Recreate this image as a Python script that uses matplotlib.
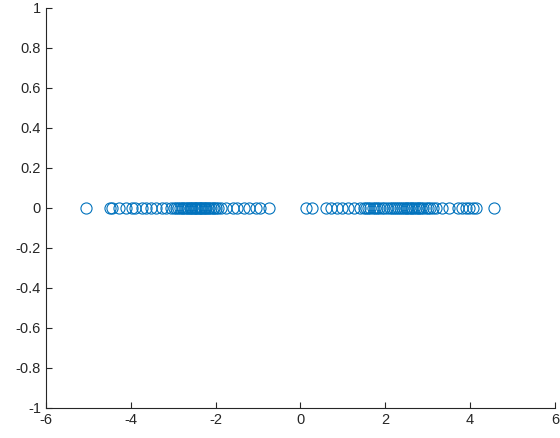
import matplotlib
matplotlib.use("Agg")
import matplotlib.pyplot as plt

# sample positions (all at y = 0)
x_neg = [-5.05, -4.5, -4.44, -4.28, -4.12, -3.98, -3.9, -3.74, -3.65, -3.53,
         -3.41, -3.27, -3.18, -3.06, -2.97, -2.93, -2.88, -2.84, -2.8, -2.76,
         -2.72, -2.68, -2.65, -2.61, -2.58, -2.55, -2.52, -2.49, -2.46, -2.43,
         -2.4, -2.37, -2.34, -2.31, -2.28, -2.25, -2.22, -2.19, -2.15, -2.11,
         -2.07, -2.03, -1.99, -1.95, -1.88, -1.76, -1.6, -1.5, -1.32, -1.22,
         -1.04, -0.96, -0.75]
x_pos = [0.14, 0.28, 0.61, 0.73, 0.87, 0.99, 1.13, 1.27, 1.41, 1.5, 1.55,
         1.6, 1.65, 1.7, 1.75, 1.8, 1.86, 1.92, 1.98, 2.04, 2.1, 2.15, 2.2,
         2.25, 2.3, 2.35, 2.4, 2.44, 2.48, 2.52, 2.56, 2.6, 2.64, 2.68, 2.72,
         2.76, 2.8, 2.85, 2.9, 2.95, 3.0, 3.06, 3.12, 3.2, 3.34, 3.5, 3.72,
         3.81, 3.9, 3.98, 4.07, 4.14, 4.56]
xs = x_neg + x_pos
ys = [0] * len(xs)

xticks = [-6, -4, -2, 0, 2, 4, 6]
yticks = [-1, -0.8, -0.6, -0.4, -0.2, 0, 0.2, 0.4, 0.6, 0.8, 1]


def main() -> None:
    plt.rcParams["font.family"] = ["Liberation Sans", "DejaVu Sans"]
    plt.rcParams["axes.unicode_minus"] = False
    fig = plt.figure(figsize=(5.6, 4.38), dpi=100)
    ax = fig.add_axes([0.082, 0.0685, 0.909, 0.9135])

    ax.plot(xs, ys, "o", linestyle="none", markersize=8,
            markerfacecolor="none", markeredgecolor="#0072BD",
            markeredgewidth=0.8)

    ax.set_xlim(-6, 6)
    ax.set_ylim(-1, 1)
    ax.set_xticks(xticks)
    ax.set_yticks(yticks)
    ax.set_yticklabels([f"{v:g}" for v in yticks])
    ax.spines["top"].set_visible(False)
    ax.spines["right"].set_visible(False)
    for s in ("left", "bottom"):
        ax.spines[s].set_color("#262626")
        ax.spines[s].set_linewidth(0.8)
    ax.tick_params(direction="in", length=4, width=0.8, labelsize=10.5,
                   colors="#262626")

    fig.savefig("out.png", dpi=100)


if __name__ == "__main__":
    main()
